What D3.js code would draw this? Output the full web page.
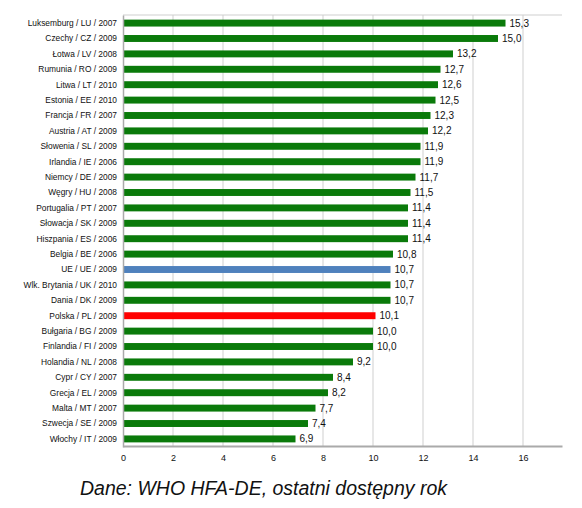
<!DOCTYPE html>
<html>
<head>
<meta charset="utf-8">
<script src="https://cdn.jsdelivr.net/npm/d3@7"></script>
<style>
  body { margin: 0; background: #fff; }
  text { font-family: "Liberation Sans Narrow", "Arial Narrow", "Liberation Sans", sans-serif; }
</style>
</head>
<body>
<script>
const countries = [
  "Luksemburg / LU / 2007", "Czechy / CZ / 2009", "Łotwa / LV / 2008", "Rumunia / RO / 2009",
  "Litwa / LT / 2010", "Estonia / EE / 2010", "Francja / FR / 2007", "Austria / AT / 2009",
  "Słowenia / SL / 2009", "Irlandia / IE / 2006", "Niemcy / DE / 2009", "Węgry / HU / 2008",
  "Portugalia / PT / 2007", "Słowacja / SK / 2009", "Hiszpania / ES / 2006", "Belgia / BE / 2006",
  "UE / UE / 2009", "Wlk. Brytania / UK / 2010", "Dania / DK / 2009", "Polska / PL / 2009",
  "Bułgaria / BG / 2009", "Finlandia / FI / 2009", "Holandia / NL / 2008", "Cypr / CY / 2007",
  "Grecja / EL / 2009", "Malta / MT / 2007", "Szwecja / SE / 2009", "Włochy / IT / 2009"
]
const values = [15.3, 15.0, 13.2, 12.7, 12.6, 12.5, 12.3, 12.2, 11.9, 11.9, 11.7, 11.5, 11.4, 11.4,
  11.4, 10.8, 10.7, 10.7, 10.7, 10.1, 10.0, 10.0, 9.2, 8.4, 8.2, 7.7, 7.4, 6.9]
const xTicks = [0, 2, 4, 6, 8, 10, 12, 14, 16]
const caption = "Dane: WHO HFA-DE, ostatni dostępny rok"

const data = countries.map((c, i) => ({country: c, value: values[i]}))

const margin = {top: 15, left: 123, right: 20, bottom: 62}
const width = 582
const height = 508

const svg = d3.select('body').append('svg')
  .attr('width', width)
  .attr('height', height)

const xScale = d3.scaleLinear()
  .domain([0, 17.56])
  .range([margin.left, width - margin.right])

const yScale = d3.scaleBand()
  .domain(countries)
  .range([margin.top, height - margin.bottom + 1])
  .paddingInner(0.55)
  .paddingOuter(0.3)

const color = d => d.country.startsWith("UE") ? "#4f81bd"
  : d.country.startsWith("Polska") ? "#ff0000" : "#0a7a0a"

// gridlines
svg.append('g')
  .selectAll('line')
  .data(xTicks.slice(1))
  .join('line')
  .attr('x1', d => xScale(d)).attr('x2', d => xScale(d))
  .attr('y1', margin.top).attr('y2', height - margin.bottom)
  .attr('stroke', '#cfcfcf')
  .attr('stroke-width', 1)

// top border
svg.append('line')
  .attr('x1', margin.left).attr('x2', width - margin.right)
  .attr('y1', margin.top).attr('y2', margin.top)
  .attr('stroke', '#cfcfcf')

svg.append('g')
  .selectAll('rect')
  .data(data)
  .join('rect')
  .attr('x', xScale(0))
  .attr('y', d => yScale(d.country))
  .attr('width', d => xScale(d.value) - xScale(0))
  .attr('height', yScale.bandwidth())
  .attr('fill', color)

svg.append('g')
  .selectAll('text')
  .data(data)
  .join('text')
  .attr('x', d => xScale(d.value) + 4)
  .attr('y', d => yScale(d.country) + yScale.bandwidth() / 2)
  .attr('dy', '0.35em')
  .attr('font-size', 10)
  .attr('fill', '#111')
  .text(d => d3.format('.1f')(d.value).replace('.', ','))

const xAxis = d3.axisBottom(xScale).tickValues(xTicks).tickSize(0).tickPadding(9)
const xAxisGroup = svg.append('g')
  .attr('transform', `translate(0,${height - margin.bottom})`)
  .call(xAxis)
xAxisGroup.select('.domain').attr('stroke', '#aaa').attr('stroke-width', 2)
xAxisGroup.selectAll('text').attr('font-size', 9).attr('fill', '#111')

const yAxis = d3.axisLeft(yScale).tickSize(0).tickPadding(6)
const yAxisGroup = svg.append('g')
  .attr('transform', `translate(${margin.left},0)`)
  .call(yAxis)
yAxisGroup.select('.domain').attr('stroke', '#aaa').attr('stroke-width', 1.5)
yAxisGroup.selectAll('text').attr('font-size', 9).attr('fill', '#111')
  .attr('textLength', function() { return this.getComputedTextLength() * 0.93 })
  .attr('lengthAdjust', 'spacingAndGlyphs')

svg.append('text')
  .attr('x', 80)
  .attr('y', 495)
  .attr('font-size', 19.5)
  .attr('font-style', 'italic')
  .style('font-family', '"Liberation Sans", Arial, sans-serif')
  .attr('fill', '#111')
  .text(caption)
</script>
</body>
</html>
